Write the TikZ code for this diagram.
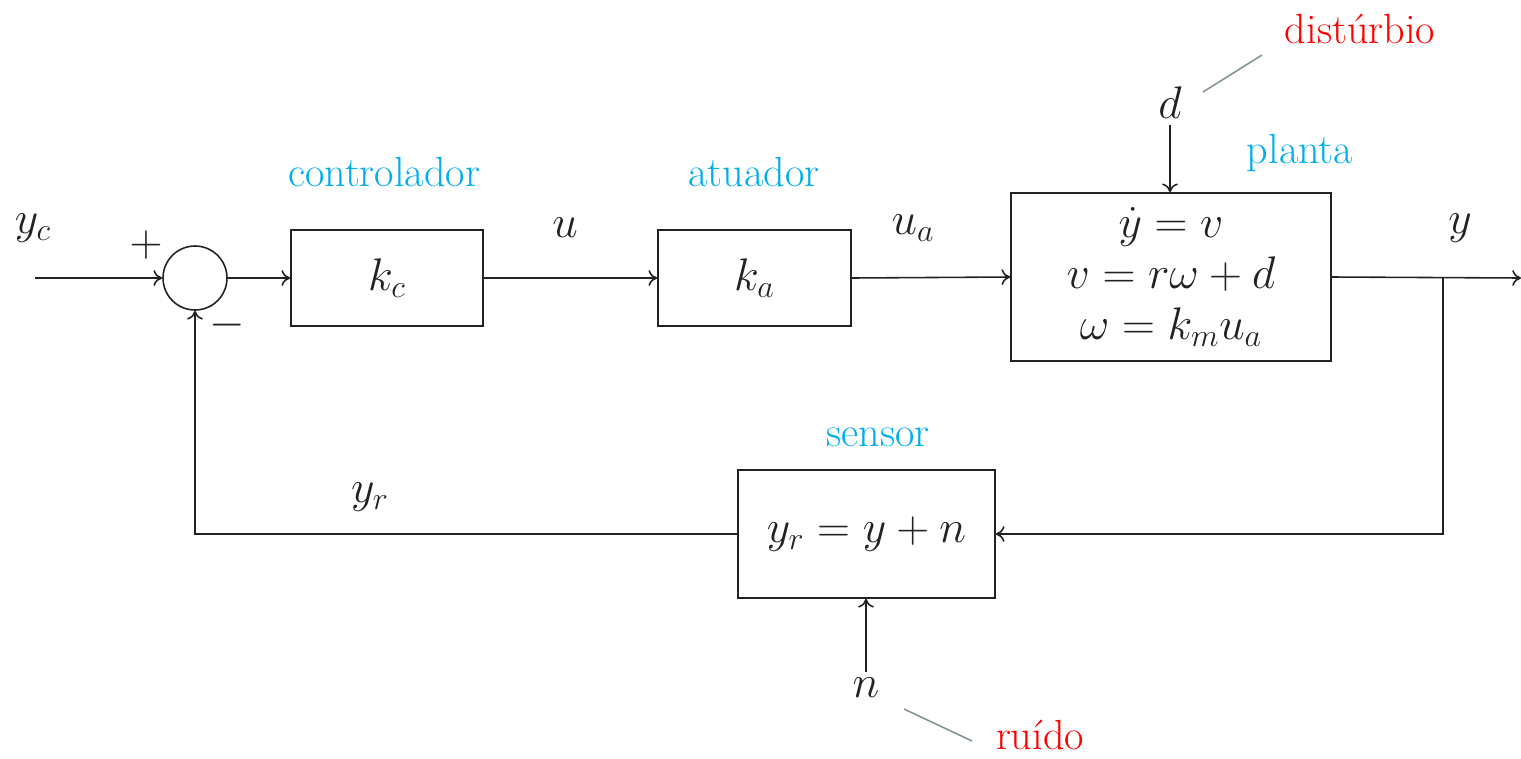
\RequirePackage{fix-cm}
\documentclass[tikz,border=0pt]{standalone}
\usepackage{fontspec}
\usetikzlibrary{arrows.meta}
\definecolor{lblue}{RGB}{0,174,239}
\definecolor{lgray}{RGB}{128,150,140}
\definecolor{ink}{RGB}{34,34,34}
\tikzset{
  blk/.style={draw=ink, line width=0.9pt, inner sep=0pt},
  sig/.style={draw=ink, line width=0.9pt, -{To[length=5pt,width=9pt]}},
  wire/.style={draw=ink, line width=0.9pt},
  mlab/.style={text=ink, font=\fontsize{26}{31}\selectfont},
  tlab/.style={text=lblue, font=\fontsize{24}{28}\selectfont},
  rlab/.style={text=red, font=\fontsize{24}{28}\selectfont},
  pointer/.style={draw=lgray, line width=0.9pt},
}
\begin{document}
\begin{tikzpicture}[x=0.02cm, y=-0.02cm]
\useasboundingbox (0,0) rectangle (1521,758);
% blocks
\node[blk, circle, minimum size=1.28cm] (sum) at (195,278) {};
\node[blk, minimum width=3.84cm, minimum height=1.92cm, mlab] (ctrl) at (387,278) {$k_c$};
\node[blk, minimum width=3.86cm, minimum height=1.92cm, mlab] (act) at (754.5,278) {$k_a$};
\node[blk, minimum width=6.4cm, minimum height=3.36cm, mlab, align=center, font=\fontsize{26}{29}\selectfont] (plant) at (1171,277)
  {$\dot y = v$\\ $v = r\omega + d$\\ $\omega = k_m u_a$};
\node[blk, minimum width=5.14cm, minimum height=2.56cm, mlab] (sens) at (866.5,534) {$y_r = y + n$};
% coordinates
\coordinate (in) at (35,278);
\coordinate (out) at (1521,278);
\coordinate (br) at (1443,278);
\coordinate (brd) at (1443,534);
\coordinate (fbl) at (195,534);
% signal labels
\node[mlab] (yc) at (33,228) {$y_c$};
\node[mlab] (plus) at (146,245) {$+$};
\node[mlab] (minus) at (227,325) {$-$};
\node[mlab] (u) at (565,228) {$u$};
\node[mlab] (ua) at (913,228) {$u_a$};
\node[mlab] (y) at (1460,228) {$y$};
\node[mlab] (yr) at (370,497) {$y_r$};
\node[mlab] (d) at (1170,103) {$d$};
\node[mlab] (n) at (866,688) {$n$};
% text labels
\node[tlab] (lctrl) at (384,172) {controlador};
\node[tlab] (lact) at (754,172) {atuador};
\node[tlab] (lplant) at (1300,153) {planta};
\node[tlab] (lsens) at (878,437) {sensor};
\node[rlab] (ldist) at (1360,29) {distúrbio};
\node[rlab, text depth=0pt, inner sep=1pt, anchor=base] (lnoise) at (1040,749) {ruído};
% connectors
\draw[sig] (in) -- (sum.west);
\draw[sig] (sum.east) -- (ctrl.west);
\draw[sig] (ctrl.east) -- (act.west);
\draw[sig] (act.east) -- (plant.west);
\draw[sig] (plant.east) -- (out);
\draw[sig] (d.south) -- (d.south |- plant.north);
\draw[sig] (br) -- (brd) -- (sens.east);
\draw[sig] (sens.west) -- (fbl) -- (sum.south);
\draw[sig] (n.north) -- (n.north |- sens.south);
% pointers
\coordinate (p1a) at (1203,92);
\coordinate (p1b) at (1262,55);
\coordinate (p2a) at (904,709);
\coordinate (p2b) at (972,741);
\draw[pointer] (p1a) -- (p1b);
\draw[pointer] (p2a) -- (p2b);
\end{tikzpicture}
\end{document}
